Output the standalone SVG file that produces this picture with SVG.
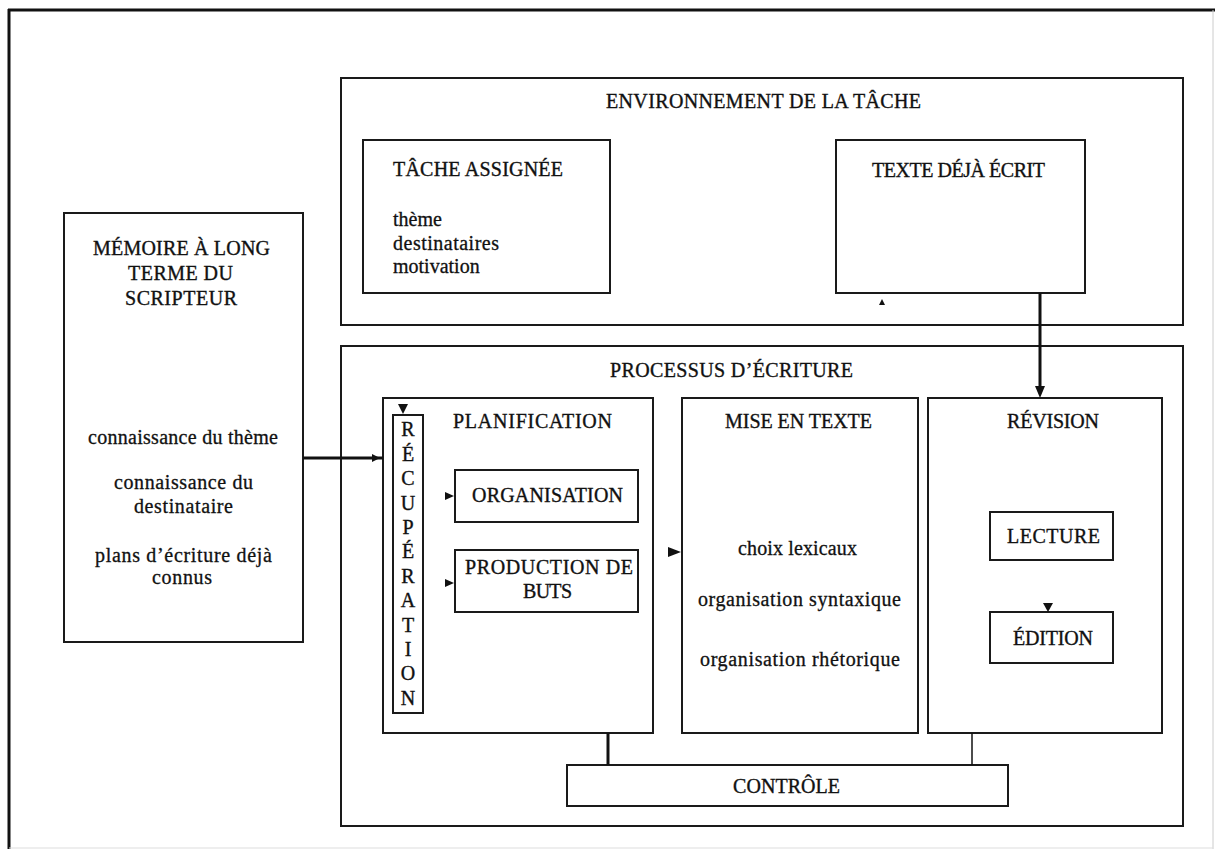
<svg xmlns="http://www.w3.org/2000/svg" width="1215" height="849" viewBox="0 0 1215 849">
<defs>
<style>
.box{fill:none;stroke:#1a1a1a;stroke-width:2}
.t{font-family:"Liberation Serif","Times New Roman",serif;font-size:20px;fill:#111;stroke:#111;stroke-width:0.35}
.l{font-family:"Liberation Serif","Times New Roman",serif;font-size:20px;fill:#111;stroke:#111;stroke-width:0.3}
.c{text-anchor:middle}
.conn{stroke:#111;fill:none}
.head{fill:#111}
</style>
</defs>
<rect width="1215" height="849" fill="#fff"/>
<g id="frame">
<line x1="9" y1="9" x2="9" y2="849" stroke="#111" stroke-width="3"/>
<line x1="8" y1="10" x2="1215" y2="10" stroke="#111" stroke-width="3"/>
<line x1="1213" y1="10" x2="1213" y2="849" stroke="#ccc" stroke-width="1"/>
<line x1="9" y1="848" x2="1213" y2="848" stroke="#ddd" stroke-width="1"/>
</g>
<g id="environnement">
<rect class="box" x="341" y="78" width="842" height="247"/>
<text class="t" x="606" y="108" textLength="315">ENVIRONNEMENT DE LA TÂCHE</text>
</g>
<g id="tache-assignee">
<rect class="box" x="363" y="140" width="247" height="153"/>
<text class="t" x="393" y="176" textLength="170">TÂCHE ASSIGNÉE</text>
<text class="l" x="393" y="226">thème</text>
<text class="l" x="393" y="250" textLength="106">destinataires</text>
<text class="l" x="393" y="273">motivation</text>
</g>
<g id="texte-deja-ecrit">
<rect class="box" x="836" y="140" width="249" height="153"/>
<text class="t" x="872" y="177" textLength="173">TEXTE DÉJÀ ÉCRIT</text>
</g>
<g id="memoire">
<rect class="box" x="64" y="213" width="239" height="429"/>
<text class="t" x="93" y="255" textLength="177">MÉMOIRE À LONG</text>
<text class="t" x="128" y="280" textLength="105">TERME DU</text>
<text class="t" x="125" y="305" textLength="112">SCRIPTEUR</text>
<text class="l" x="88" y="444" textLength="190">connaissance du thème</text>
<text class="l" x="114" y="489" textLength="139">connaissance du</text>
<text class="l" x="134" y="513" textLength="99">destinataire</text>
<text class="l" x="95" y="562" textLength="177">plans d’écriture déjà</text>
<text class="l" x="152" y="584" textLength="60">connus</text>
</g>
<g id="processus">
<rect class="box" x="341" y="346" width="842" height="480"/>
<text class="t" x="610" y="377" textLength="243">PROCESSUS D’ÉCRITURE</text>
</g>
<g id="planification">
<rect class="box" x="383" y="398" width="270" height="335"/>
<text class="t" x="453" y="428" textLength="159">PLANIFICATION</text>
</g>
<g id="recuperation">
<rect class="box" x="393" y="415" width="30" height="298"/>
<g class="t c">
<text x="408" y="436">R</text>
<text x="408" y="461">É</text>
<text x="408" y="485">C</text>
<text x="408" y="510">U</text>
<text x="408" y="534">P</text>
<text x="408" y="558">É</text>
<text x="408" y="583">R</text>
<text x="408" y="607">A</text>
<text x="408" y="632">T</text>
<text x="408" y="656">I</text>
<text x="408" y="680">O</text>
<text x="408" y="705">N</text>
</g>
</g>
<g id="organisation">
<rect class="box" x="455" y="470" width="183" height="52"/>
<text class="t" x="472" y="502" textLength="151">ORGANISATION</text>
</g>
<g id="production-de-buts">
<rect class="box" x="455" y="550" width="183" height="62"/>
<text class="t" x="465" y="574" textLength="168">PRODUCTION DE</text>
<text class="t" x="523" y="598" textLength="49">BUTS</text>
</g>
<g id="mise-en-texte">
<rect class="box" x="682" y="398" width="236" height="335"/>
<text class="t" x="725" y="428" textLength="147">MISE EN TEXTE</text>
<text class="l" x="738" y="555" textLength="119">choix lexicaux</text>
<text class="l" x="698" y="606" textLength="203">organisation syntaxique</text>
<text class="l" x="700" y="666" textLength="200">organisation rhétorique</text>
</g>
<g id="revision">
<rect class="box" x="928" y="398" width="234" height="335"/>
<text class="t" x="1007" y="428" textLength="92">RÉVISION</text>
</g>
<g id="lecture">
<rect class="box" x="990" y="512" width="123" height="48"/>
<text class="t" x="1007" y="543" textLength="93">LECTURE</text>
</g>
<g id="edition">
<rect class="box" x="990" y="612" width="123" height="51"/>
<text class="t" x="1013" y="645" textLength="80">ÉDITION</text>
</g>
<g id="controle">
<rect class="box" x="567" y="765" width="441" height="41"/>
<text class="t" x="733" y="793" textLength="107">CONTRÔLE</text>
</g>
<g id="connectors">
<line class="conn" x1="303" y1="458" x2="383" y2="458" stroke-width="3"/>
<polygon class="head" points="372,454 380,458 372,462"/>
<line class="conn" x1="1040" y1="293" x2="1040" y2="390" stroke-width="3"/>
<polygon class="head" points="1035,386 1045,386 1040,398"/>
<polygon class="head" points="398,404 408,404 403,414"/>
<polygon class="head" points="445,492 454,496 445,500"/>
<polygon class="head" points="445,579 454,583 445,587"/>
<polygon class="head" points="668,547 681,552 668,557"/>
<polygon class="head" points="1043,603 1053,603 1048,612"/>
<polygon class="head" points="879,305 885,305 882,299"/>
<line class="conn" x1="608" y1="733" x2="608" y2="765" stroke-width="3"/>
<line class="conn" x1="972" y1="733" x2="972" y2="765" stroke-width="1.5"/>
</g>
</svg>
